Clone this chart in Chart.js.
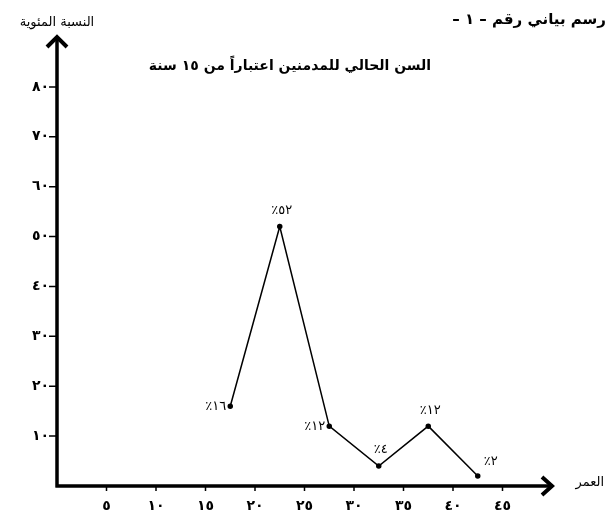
<!DOCTYPE html>
<html>
<head>
<meta charset="utf-8">
<script src="https://cdn.jsdelivr.net/npm/chart.js@4/dist/chart.umd.min.js"></script>
<style>
html,body{margin:0;padding:0;background:#fff;}
#wrap{width:608px;height:517px;position:relative;}
</style>
</head>
<body>
<div id="wrap"><canvas id="c" width="608" height="517"></canvas></div>
<script>
// ---- data ----
const ages = [17.5, 22.5, 27.5, 32.5, 37.5, 42.5];
const percents = [16, 52, 12, 4, 12, 2];
const pointLabels = ['٪١٦', '٪٥٢', '٪١٢', '٪٤', '٪١٢', '٪٢'];
const xTicks = [5, 10, 15, 20, 25, 30, 35, 40, 45];
const xTickLabels = ['٥', '١٠', '١٥', '٢٠', '٢٥', '٣٠', '٣٥', '٤٠', '٤٥'];
const yTicks = [10, 20, 30, 40, 50, 60, 70, 80];
const yTickLabels = ['١٠', '٢٠', '٣٠', '٤٠', '٥٠', '٦٠', '٧٠', '٨٠'];
const figureLabel = 'رسم بياني رقم – ١ –';
const titleText = 'السن الحالي للمدمنين اعتباراً من ١٥ سنة';
const yAxisTitle = 'النسبة المئوية';
const xAxisTitle = 'العمر';

// label placement per point (style only)
const labelPlace = ['left', 'top', 'left', 'top', 'top', 'topright'];

const AR = '"DejaVu Sans", sans-serif';

const decor = {
  id: 'decor',
  afterDatasetsDraw(chart) {
    const ctx = chart.ctx;
    const xs = chart.scales.x, ys = chart.scales.y;
    const x0 = xs.getPixelForValue(0), y0 = ys.getPixelForValue(0);
    const xEnd = xs.getPixelForValue(xs.max), yEnd = ys.getPixelForValue(ys.max);
    ctx.save();
    ctx.strokeStyle = '#000';
    ctx.fillStyle = '#000';
    ctx.lineCap = 'butt';
    // axes
    ctx.lineWidth = 3.5;
    ctx.beginPath();
    ctx.moveTo(x0, y0 + 1.5); ctx.lineTo(x0, yEnd + 1);
    ctx.moveTo(x0 - 1.5, y0); ctx.lineTo(xEnd - 1, y0);
    ctx.stroke();
    // arrow heads
    ctx.lineWidth = 4;
    ctx.lineJoin = 'miter';
    ctx.beginPath();
    ctx.moveTo(x0 - 10, yEnd + 10); ctx.lineTo(x0, yEnd); ctx.lineTo(x0 + 10, yEnd + 10);
    ctx.moveTo(xEnd - 10, y0 - 9); ctx.lineTo(xEnd, y0); ctx.lineTo(xEnd - 10, y0 + 9);
    ctx.stroke();
    // ticks
    ctx.lineWidth = 1.5;
    ctx.beginPath();
    yTicks.forEach(v => { const p = ys.getPixelForValue(v); ctx.moveTo(x0 - 8, p); ctx.lineTo(x0, p); });
    xTicks.forEach(v => { const p = xs.getPixelForValue(v); ctx.moveTo(p, y0); ctx.lineTo(p, y0 + 5); });
    ctx.stroke();
    // tick labels
    ctx.font = 'bold 14px ' + AR;
    ctx.textBaseline = 'middle';
    ctx.textAlign = 'right';
    yTicks.forEach((v, i) => ctx.fillText(yTickLabels[i], x0 - 8, ys.getPixelForValue(v)));
    ctx.textAlign = 'center';
    xTicks.forEach((v, i) => ctx.fillText(xTickLabels[i], xs.getPixelForValue(v), y0 + 20));
    // point labels
    ctx.font = '13px ' + AR;
    ctx.direction = 'ltr';
    ages.forEach((a, i) => {
      const px = xs.getPixelForValue(a), py = ys.getPixelForValue(percents[i]);
      const pl = labelPlace[i];
      if (pl === 'left') { ctx.textAlign = 'right'; ctx.fillText(pointLabels[i], px - 4, py); }
      else if (pl === 'top') { ctx.textAlign = 'center'; ctx.fillText(pointLabels[i], px + 2, py - 16); }
      else { ctx.textAlign = 'center'; ctx.fillText(pointLabels[i], px + 13, py - 14); }
    });
    // texts
    ctx.direction = 'rtl';
    ctx.font = 'bold 15px ' + AR;
    ctx.textAlign = 'right';
    ctx.fillText(figureLabel, 606, 20);
    ctx.font = 'bold 14px ' + AR;
    ctx.textAlign = 'center';
    ctx.fillText(titleText, 290, 66);
    ctx.font = '13px ' + AR;
    ctx.fillText(yAxisTitle, x0, 23);
    ctx.textAlign = 'right';
    ctx.fillText(xAxisTitle, 604, y0 - 3);
    ctx.restore();
  }
};

new Chart(document.getElementById('c'), {
  type: 'line',
  data: {
    datasets: [{
      data: ages.map((a, i) => ({ x: a, y: percents[i] })),
      borderColor: '#000',
      backgroundColor: '#000',
      borderWidth: 1.5,
      pointRadius: 2,
      pointBackgroundColor: '#000',
      tension: 0,
      fill: false
    }]
  },
  options: {
    responsive: false,
    animation: false,
    layout: { padding: { left: 57, right: 56, top: 37, bottom: 31 } },
    plugins: { legend: { display: false }, tooltip: { enabled: false }, title: { display: false } },
    scales: {
      x: { type: 'linear', min: 0, max: 50, display: false },
      y: { type: 'linear', min: 0, max: 90, display: false }
    }
  },
  plugins: [decor]
});
</script>
</body>
</html>
